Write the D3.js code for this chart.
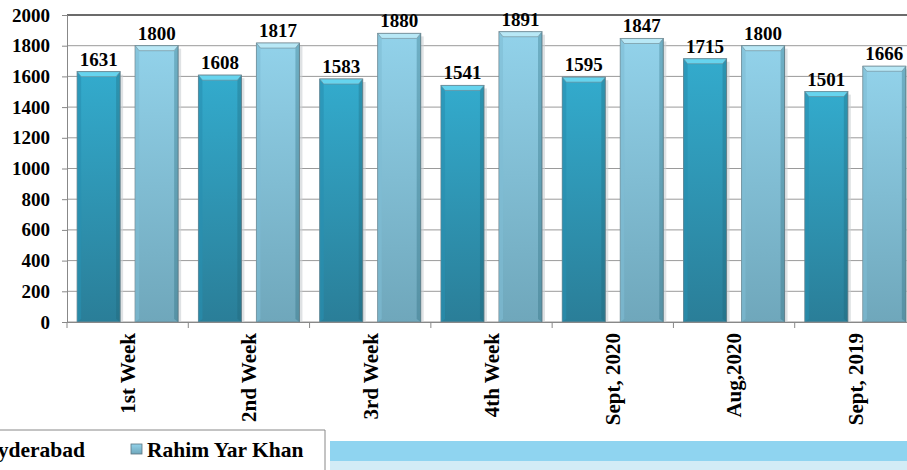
<!DOCTYPE html>
<html lang="en">
<head>
<meta charset="utf-8">
<title>Hyderabad vs Rahim Yar Khan</title>
<script src="https://cdn.jsdelivr.net/npm/d3@7"></script>
<style>
  body { margin: 0; background: #fff; }
  text { font-family: "Liberation Serif", "Times New Roman", serif; font-weight: bold; }
</style>
</head>
<body>
<script>
// data
var categories = ["1st Week", "2nd Week", "3rd Week", "4th Week", "Sept, 2020", "Aug,2020", "Sept, 2019"];
var seriesNames = ["Hyderabad", "Rahim Yar Khan"];
var hyderabad = [1631, 1608, 1583, 1541, 1595, 1715, 1501];
var rahimYarKhan = [1800, 1817, 1880, 1891, 1847, 1800, 1666];
var yTicks = [0, 200, 400, 600, 800, 1000, 1200, 1400, 1600, 1800, 2000];

var w = 907, h = 470;
var plotLeft = 67, plotRight = 916, plotTop = 15, plotBottom = 322;

var svg = d3.select("body").append("svg").attr("width", w).attr("height", h);
var defs = svg.append("defs");

// gradients for the two series
var looks = [
  { id: "g0", top: "#33abcd", bot: "#2a7e98", cap: "#66d4ee", side: "#2890b0" },
  { id: "g1", top: "#92d2ea", bot: "#6fa7bb", cap: "#b8e8f6", side: "#7fbdd4" }
];
looks.forEach(function(l) {
  var g = defs.append("linearGradient").attr("id", l.id).attr("x1", 0).attr("y1", 0).attr("x2", 0).attr("y2", 1);
  g.append("stop").attr("offset", "0%").attr("stop-color", l.top);
  g.append("stop").attr("offset", "100%").attr("stop-color", l.bot);
});

var x = d3.scaleBand().domain(categories).range([plotLeft, plotRight]).padding(0);
var xs = d3.scaleBand().domain(seriesNames).range([0, x.bandwidth()]).paddingInner(0.259).paddingOuter(0.175);
var y = d3.scaleLinear().domain([0, 2000]).range([plotBottom, plotTop]);

// gridlines
svg.append("g").selectAll("line").data(yTicks).enter().append("line")
  .attr("x1", plotLeft).attr("x2", w)
  .attr("y1", function(d) { return y(d); }).attr("y2", function(d) { return y(d); })
  .attr("stroke", function(d) { return d == 2000 ? "#3a3a3a" : "#9a9a9a"; })
  .attr("stroke-width", function(d) { return d == 2000 ? 1.5 : 1; });

// y axis
var yAxis = d3.axisLeft(y).tickValues(yTicks).tickSize(5).tickPadding(12).tickFormat(d3.format("d"));
var ya = svg.append("g").attr("transform", "translate(" + plotLeft + ",0)").call(yAxis);
ya.select(".domain").attr("stroke", "#888");
ya.selectAll(".tick line").attr("stroke", "#888");
ya.selectAll("text").attr("font-size", 19).attr("fill", "#000")
  .style("font-family", "'Liberation Serif', serif").style("font-weight", "bold");

// bars
var rows = [];
categories.forEach(function(c, i) {
  rows.push({ cat: c, s: 0, v: hyderabad[i] });
  rows.push({ cat: c, s: 1, v: rahimYarKhan[i] });
});

var bw = xs.bandwidth();
var bars = svg.append("g").selectAll("g").data(rows).enter().append("g")
  .attr("transform", function(d) { return "translate(" + (x(d.cat) + xs(seriesNames[d.s])) + ",0)"; });

// soft shadow on the right
bars.append("rect")
  .attr("x", 2).attr("y", function(d) { return y(d.v) + 3; })
  .attr("width", bw + 1).attr("height", function(d) { return plotBottom - y(d.v) - 3; })
  .attr("fill", "#c9cfd2").attr("opacity", 0.6);

bars.append("rect")
  .attr("x", 0).attr("y", function(d) { return y(d.v); })
  .attr("width", bw).attr("height", function(d) { return plotBottom - y(d.v); })
  .attr("fill", function(d) { return "url(#" + looks[d.s].id + ")"; })
  .attr("stroke", "#6f8790").attr("stroke-width", 1);

// side bevels
bars.append("path")
  .attr("d", function(d) {
    var t = y(d.v), b = plotBottom;
    return "M0," + t + "L4," + (t + 5) + "L4," + (b - 3) + "L0," + b + "Z";
  })
  .attr("fill", function(d) { return looks[d.s].side; }).attr("opacity", 0.6);
bars.append("path")
  .attr("d", function(d) {
    var t = y(d.v), b = plotBottom;
    return "M" + bw + "," + t + "L" + (bw - 4) + "," + (t + 5) + "L" + (bw - 4) + "," + (b - 3) + "L" + bw + "," + b + "Z";
  })
  .attr("fill", "#1f5f72").attr("opacity", 0.3);

// top caps
bars.append("path")
  .attr("d", function(d) {
    var t = y(d.v);
    return "M0," + t + "L" + bw + "," + t + "L" + (bw - 4) + "," + (t + 5) + "L4," + (t + 5) + "Z";
  })
  .attr("fill", function(d) { return looks[d.s].cap; })
  .attr("stroke", "#6f8790").attr("stroke-width", 0.6);

// value labels
bars.append("text")
  .attr("x", bw / 2)
  .attr("y", function(d) { return y(d.v) - 6; })
  .attr("text-anchor", "middle")
  .attr("font-size", 19)
  .text(function(d) { return d.v; });

// x axis
var xAxis = d3.axisBottom(x).tickSize(0).tickFormat("");
var xa = svg.append("g").attr("transform", "translate(0," + plotBottom + ")").call(xAxis);
xa.select(".domain").attr("stroke", "#888");
// boundary ticks
svg.append("g").selectAll("line").data(categories).enter().append("line")
  .attr("x1", function(d) { return x(d); }).attr("x2", function(d) { return x(d); })
  .attr("y1", plotBottom).attr("y2", plotBottom + 6).attr("stroke", "#888");

svg.append("g").selectAll("text").data(categories).enter().append("text")
  .attr("transform", function(d) { return "translate(" + (x(d) + x.bandwidth() / 2) + "," + (plotBottom + 11) + ") rotate(-90)"; })
  .attr("text-anchor", "end")
  .attr("dy", "0.35em")
  .attr("font-size", 21)
  .text(function(d) { return d; });

// legend box (cut off at the left)
svg.append("path")
  .attr("d", "M0,430H325V" + h)
  .attr("fill", "none").attr("stroke", "#888");

var legend = svg.append("g").attr("transform", "translate(-19,457)");
seriesNames.forEach(function(name, i) {
  var lx = i * 166;
  legend.append("rect")
    .attr("x", lx - 16).attr("y", -13).attr("width", 11).attr("height", 10)
    .attr("fill", "url(#" + looks[i].id + ")").attr("stroke", "#5b7480").attr("stroke-width", 0.8);
  legend.append("text").attr("x", lx).attr("y", 0).attr("font-size", 21.5).text(name);
});

// blue band at the bottom right
svg.append("rect").attr("x", 330).attr("y", 441).attr("width", w - 330).attr("height", 20).attr("fill", "#8fd4f0");
svg.append("rect").attr("x", 330).attr("y", 461).attr("width", w - 330).attr("height", 9).attr("fill", "#d2ecf6");
</script>
</body>
</html>
